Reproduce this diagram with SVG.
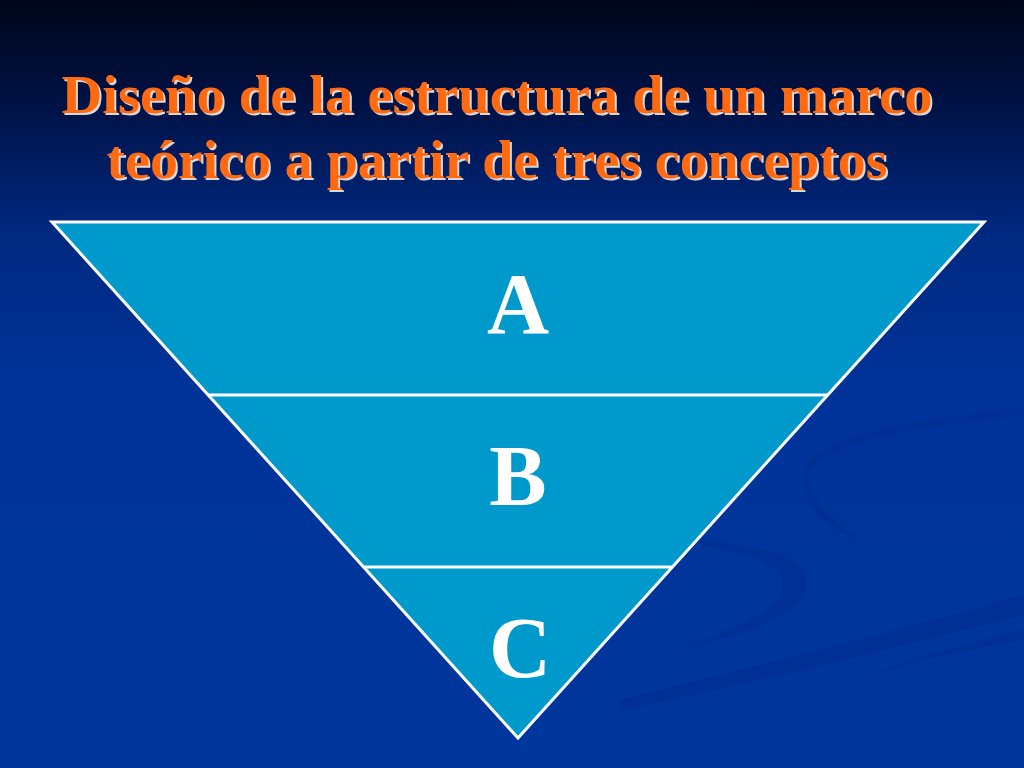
<svg xmlns="http://www.w3.org/2000/svg" width="1024" height="768" viewBox="0 0 1024 768">
<defs>
<linearGradient id="bg" x1="0" y1="0" x2="0" y2="1">
<stop offset="0" stop-color="#000618"/>
<stop offset="0.12" stop-color="#001040"/>
<stop offset="0.3" stop-color="#00287f"/>
<stop offset="0.5" stop-color="#003399"/>
<stop offset="1" stop-color="#00379d"/>
</linearGradient>
<style>
.title{font-family:"Liberation Serif",serif;font-weight:bold;font-size:55px;text-anchor:middle}
.t{fill:#ff6a10}
.sh{fill:#d8d8d8}
.band{fill:#0099cc}
.edge{stroke:#ffffff;stroke-width:3;fill:none}
.letter{font-family:"Liberation Serif",serif;font-weight:bold;font-size:86px;fill:#ffffff;text-anchor:middle}
.swirl{fill:#002b8c;opacity:0.45}
</style>
</defs>
<rect width="1024" height="768" fill="url(#bg)"/>
<g id="swirls">
<path class="swirl" d="M1024,415 C930,425 830,440 810,470 C800,490 830,520 860,540 C830,530 795,505 805,468 C820,432 940,418 1024,408 Z"/>
<path class="swirl" d="M700,540 C760,545 830,560 800,600 C780,625 720,640 680,650 C730,630 780,610 782,590 C790,565 740,550 700,545 Z"/>
<path class="swirl" d="M620,700 C740,670 900,630 1024,595 L1024,615 C900,645 750,685 620,710 Z"/>
<path class="swirl" d="M1024,640 C960,650 900,665 860,680 C900,662 960,645 1024,630 Z"/>
</g>
<g id="title">
<text class="title sh" x="499" y="115" textLength="871" lengthAdjust="spacingAndGlyphs">Diseño de la estructura de un marco</text>
<text class="title t" x="497" y="113" textLength="871" lengthAdjust="spacingAndGlyphs">Diseño de la estructura de un marco</text>
<text class="title sh" x="499" y="180" textLength="781" lengthAdjust="spacingAndGlyphs">teórico a partir de tres conceptos</text>
<text class="title t" x="497" y="178" textLength="781" lengthAdjust="spacingAndGlyphs">teórico a partir de tres conceptos</text>
</g>
<g id="node-A">
<polygon class="band" points="52,222 984,222 828,395 208,395"/>
<text class="letter" x="518" y="333">A</text>
</g>
<g id="node-B">
<polygon class="band" points="208,395 828,395 672,567 364,567"/>
<text class="letter" x="518" y="505">B</text>
</g>
<g id="node-C">
<polygon class="band" points="364,567 672,567 518,738"/>
<text class="letter" x="520" y="677">C</text>
</g>
<g id="connectors">
<polygon class="edge" points="52,222 984,222 518,738" stroke-linejoin="miter"/>
<line class="edge" x1="208" y1="395" x2="828" y2="395"/>
<line class="edge" x1="364" y1="567" x2="672" y2="567"/>
</g>
</svg>
